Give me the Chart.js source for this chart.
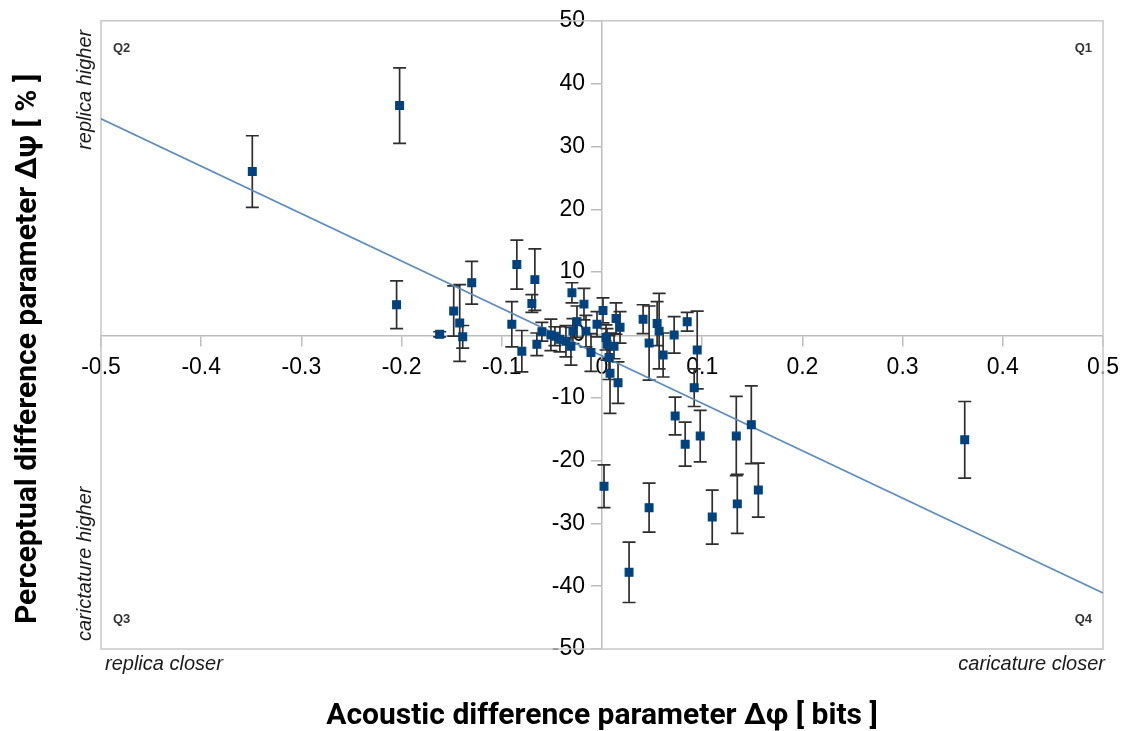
<!DOCTYPE html>
<html>
<head>
<meta charset="utf-8">
<title>Acoustic vs perceptual difference</title>
<script src="https://cdn.jsdelivr.net/npm/chart.js@4.4.1/dist/chart.umd.min.js"></script>
<style>
	html, body { margin: 0; padding: 0; background: #fff; }
	#diffChart { display: block; }
</style>
</head>
<body>
<canvas id="diffChart" width="1128" height="731"></canvas>
<script>
	// acoustic difference Δφ [bits] per item
	const acX = [
		-0.349, -0.202, -0.205, -0.162, -0.148, -0.142, -0.139, -0.130, -0.090, -0.085,
		-0.080, -0.070, -0.067, -0.065, -0.060, -0.051, -0.047, -0.042, -0.036, -0.031,
		-0.030, -0.029, -0.025, -0.018, -0.016, -0.011, -0.005, 0.001, 0.004, 0.005,
		0.007, 0.008, 0.012, 0.014, 0.018, 0.016, 0.002, 0.027, 0.041, 0.047,
		0.055, 0.057, 0.061, 0.047, 0.072, 0.073, 0.085, 0.083, 0.095, 0.092,
		0.098, 0.110, 0.134, 0.135, 0.149, 0.156, 0.362
	];
	// perceptual difference Δψ [%]
	const pcY = [
		26.0, 36.5, 4.8, 0.1, 3.8, 1.9, -0.3, 8.3, 1.7, 11.2,
		-2.6, 5.0, 8.8, -1.5, 0.5, 0.0, -0.2, -0.7, -1.0, -1.8,
		6.7, 0.6, 2.1, 4.9, 0.6, -2.8, 1.7, 3.9, -0.4, -1.5,
		-3.6, -6.1, -1.8, 2.6, 1.2, -7.6, -24.1, -37.8, 2.5, -1.3,
		1.8, 0.6, -3.2, -27.5, 0.0, -12.9, 2.1, -17.4, -2.4, -8.4,
		-16.1, -29.0, -16.1, -26.9, -14.3, -24.7, -16.7
	];
	// half length of the error bars [%]
	const pcErr = [
		5.7, 6.0, 3.8, 0.4, 4.0, 6.1, 1.8, 3.4, 3.6, 3.9,
		3.3, 1.4, 4.9, 1.8, 1.5, 2.5, 1.5, 2.0, 2.5, 3.0,
		1.6, 2.0, 2.5, 2.5, 2.5, 3.0, 2.0, 2.0, 2.0, 2.5,
		3.5, 6.4, 2.0, 2.5, 2.5, 3.3, 3.4, 4.8, 2.3, 5.9,
		3.5, 6.0, 3.5, 3.9, 2.9, 3.0, 1.5, 3.5, 6.2, 3.0,
		4.1, 4.3, 6.3, 4.7, 6.2, 4.3, 6.1
	];
	// regression line end points
	const trendX = [-0.5, 0.5];
	const trendY = [34.4, -41.1];

	// quadrant and side captions
	const quadNames = ['Q1', 'Q2', 'Q3', 'Q4'];
	const sideCaps = ['replica higher', 'carictature higher', 'replica closer', 'caricature closer'];
	const xTitle = 'Acoustic difference parameter Δφ [ bits ]';
	const yTitle = 'Perceptual difference parameter Δψ [ % ]';

	const pointData = acX.map((v, i) => ({ x: v, y: pcY[i] }));
	const trendData = trendX.map((v, i) => ({ x: v, y: trendY[i] }));

	// frame, error bars and text around the plot
	const decorPlugin = {
		id: 'decorPlugin',
		beforeDatasetsDraw(chart) {
			const { ctx, chartArea: a, scales } = chart;
			const sx = scales.x, sy = scales.y;
			ctx.save();
			ctx.strokeStyle = '#c8c8c8';
			ctx.lineWidth = 1.5;
			ctx.strokeRect(a.left, a.top, a.right - a.left, a.bottom - a.top);

			ctx.strokeStyle = '#2e2e2e';
			ctx.lineWidth = 1.7;
			const cap = 6.5;
			for (let i = 0; i < acX.length; i++) {
				const px = sx.getPixelForValue(acX[i]);
				const top = sy.getPixelForValue(pcY[i] + pcErr[i]);
				const bot = sy.getPixelForValue(pcY[i] - pcErr[i]);
				ctx.beginPath();
				ctx.moveTo(px, top); ctx.lineTo(px, bot);
				ctx.moveTo(px - cap, top); ctx.lineTo(px + cap, top);
				ctx.moveTo(px - cap, bot); ctx.lineTo(px + cap, bot);
				ctx.stroke();
			}
			ctx.restore();
		},
		afterDraw(chart) {
			const { ctx, chartArea: a } = chart;
			const midX = (a.left + a.right) / 2;
			const midY = (a.top + a.bottom) / 2;
			ctx.save();

			// quadrant tags
			ctx.fillStyle = '#333';
			ctx.font = 'bold 13px "Liberation Sans", Arial, sans-serif';
			ctx.textBaseline = 'middle';
			ctx.textAlign = 'right';
			ctx.fillText(quadNames[0], a.right - 11, a.top + 28);
			ctx.fillText(quadNames[3], a.right - 11, a.bottom - 30);
			ctx.textAlign = 'left';
			ctx.fillText(quadNames[1], a.left + 12, a.top + 28);
			ctx.fillText(quadNames[2], a.left + 12, a.bottom - 30);

			// italic side captions
			ctx.fillStyle = '#1a1a1a';
			ctx.font = 'italic 20px "Liberation Sans", Arial, sans-serif';
			ctx.textAlign = 'left';
			ctx.fillText(sideCaps[2], a.left + 4, a.bottom + 15);
			ctx.textAlign = 'right';
			ctx.fillText(sideCaps[3], a.right + 2, a.bottom + 15);

			ctx.save();
			ctx.translate(a.left - 16, 0);
			ctx.rotate(-Math.PI / 2);
			ctx.textAlign = 'right';
			ctx.fillText(sideCaps[0], -(a.top + 9), 0);
			ctx.textAlign = 'left';
			ctx.fillText(sideCaps[1], -(a.bottom - 8), 0);
			ctx.restore();

			// axis titles
			ctx.fillStyle = '#000';
			ctx.font = 'bold 30px Roboto, "Liberation Sans", sans-serif';
			ctx.textAlign = 'center';
			ctx.fillText(xTitle, midX, 716);
			ctx.save();
			ctx.translate(28, midY + 14);
			ctx.rotate(-Math.PI / 2);
			ctx.fillText(yTitle, 0, 0);
			ctx.restore();

			ctx.restore();
		}
	};

	const tickFont = { family: '"Liberation Sans", Arial, sans-serif', size: 23 };

	new Chart(document.getElementById('diffChart'), {
		type: 'scatter',
		data: {
			datasets: [
				{
					label: 'items',
					data: pointData,
					pointStyle: 'rect',
					pointRadius: 5.5,
					backgroundColor: '#00427e',
					borderColor: '#00427e',
					borderWidth: 1.2
				},
				{
					label: 'trend',
					data: trendData,
					showLine: true,
					pointRadius: 0,
					borderColor: '#5b8cc0',
					borderWidth: 1.6
				}
			]
		},
		options: {
			responsive: false,
			animation: false,
			layout: { padding: { left: 101, top: 19, right: 20, bottom: 82 } },
			plugins: {
				legend: { display: false },
				tooltip: { enabled: false }
			},
			scales: {
				x: {
					type: 'linear',
					position: 'center',
					min: -0.5,
					max: 0.5,
					ticks: { stepSize: 0.1, color: '#000', font: tickFont, padding: 9, maxRotation: 0, autoSkip: false },
					grid: { drawOnChartArea: false, tickLength: 10, color: '#bdbdbd', lineWidth: 1.5 },
					border: { color: '#bdbdbd', width: 1.5 }
				},
				y: {
					type: 'linear',
					position: 'center',
					min: -50,
					max: 50,
					ticks: { stepSize: 10, color: '#000', font: tickFont, padding: 7, autoSkip: false },
					grid: { drawOnChartArea: false, tickLength: 10, color: '#bdbdbd', lineWidth: 1.5 },
					border: { color: '#bdbdbd', width: 1.5 }
				}
			}
		},
		plugins: [decorPlugin]
	});
</script>
</body>
</html>
